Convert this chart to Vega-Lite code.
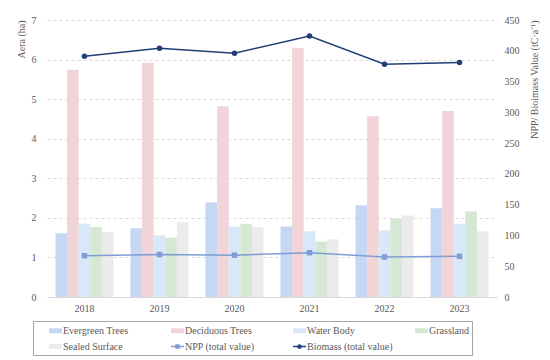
{
  "$schema": "https://vega.github.io/schema/vega-lite/v6.json",
  "width": 450,
  "height": 277,
  "autosize": {"type": "none"},
  "padding": {"left": 47, "top": 20, "right": 53, "bottom": 63},
  "background": "white",
  "config": {
    "view": {"stroke": null},
    "font": "Liberation Serif",
    "axis": {"labelFont": "Liberation Serif", "titleFont": "Liberation Serif", "labelFontSize": 10, "titleFontSize": 10, "labelColor": "#595959", "titleColor": "#595959", "titleFontWeight": "normal"},
    "legend": {"labelFont": "Liberation Serif", "labelFontSize": 10, "labelColor": "#595959"}
  },
  "data": {"values": [
    {"year": "2018", "series": "Evergreen Trees", "value": 1.61},
    {"year": "2018", "series": "Deciduous Trees", "value": 5.74},
    {"year": "2018", "series": "Water Body", "value": 1.85},
    {"year": "2018", "series": "Grassland", "value": 1.77},
    {"year": "2018", "series": "Sealed Surface", "value": 1.64},
    {"year": "2019", "series": "Evergreen Trees", "value": 1.74},
    {"year": "2019", "series": "Deciduous Trees", "value": 5.92},
    {"year": "2019", "series": "Water Body", "value": 1.56},
    {"year": "2019", "series": "Grassland", "value": 1.5},
    {"year": "2019", "series": "Sealed Surface", "value": 1.89},
    {"year": "2020", "series": "Evergreen Trees", "value": 2.39},
    {"year": "2020", "series": "Deciduous Trees", "value": 4.82},
    {"year": "2020", "series": "Water Body", "value": 1.78},
    {"year": "2020", "series": "Grassland", "value": 1.85},
    {"year": "2020", "series": "Sealed Surface", "value": 1.76},
    {"year": "2021", "series": "Evergreen Trees", "value": 1.78},
    {"year": "2021", "series": "Deciduous Trees", "value": 6.29},
    {"year": "2021", "series": "Water Body", "value": 1.66},
    {"year": "2021", "series": "Grassland", "value": 1.4},
    {"year": "2021", "series": "Sealed Surface", "value": 1.46},
    {"year": "2022", "series": "Evergreen Trees", "value": 2.32},
    {"year": "2022", "series": "Deciduous Trees", "value": 4.57},
    {"year": "2022", "series": "Water Body", "value": 1.68},
    {"year": "2022", "series": "Grassland", "value": 1.98},
    {"year": "2022", "series": "Sealed Surface", "value": 2.06},
    {"year": "2023", "series": "Evergreen Trees", "value": 2.24},
    {"year": "2023", "series": "Deciduous Trees", "value": 4.7},
    {"year": "2023", "series": "Water Body", "value": 1.85},
    {"year": "2023", "series": "Grassland", "value": 2.16},
    {"year": "2023", "series": "Sealed Surface", "value": 1.66},
    {"year": "2018", "series": "NPP (total value)", "value": 67},
    {"year": "2019", "series": "NPP (total value)", "value": 69},
    {"year": "2020", "series": "NPP (total value)", "value": 68},
    {"year": "2021", "series": "NPP (total value)", "value": 72},
    {"year": "2022", "series": "NPP (total value)", "value": 65},
    {"year": "2023", "series": "NPP (total value)", "value": 66},
    {"year": "2018", "series": "Biomass (total value)", "value": 391},
    {"year": "2019", "series": "Biomass (total value)", "value": 404},
    {"year": "2020", "series": "Biomass (total value)", "value": 396},
    {"year": "2021", "series": "Biomass (total value)", "value": 424},
    {"year": "2022", "series": "Biomass (total value)", "value": 378},
    {"year": "2023", "series": "Biomass (total value)", "value": 381}
  ]},
  "encoding": {
    "x": {"field": "year", "type": "nominal", "title": null,
      "scale": {"paddingInner": 0.227, "paddingOuter": 0.113},
      "axis": {"labelAngle": 0, "ticks": false, "domainColor": "#d9d9d9", "labelPadding": 6, "labelFont": "Liberation Serif", "labelFontSize": 10}},
    "color": {"field": "series", "type": "nominal",
      "scale": {
        "domain": ["Evergreen Trees", "Deciduous Trees", "Water Body", "Grassland", "Sealed Surface", "NPP (total value)", "Biomass (total value)"],
        "range": ["#c5d7f2", "#f0d4d8", "#d9e8f8", "#d5e8d3", "#ebebeb", "#7f9dd4", "#203f77"]},
      "legend": {
        "title": null, "orient": "none", "legendX": -14, "legendY": 301,
        "direction": "horizontal", "columns": 4, "gridAlign": "all", "columnPadding": 9,
        "rowPadding": 4, "padding": 3, "strokeColor": "#a6a6a6", "symbolOffset": 13,
        "symbolSize": 169, "labelOffset": 1,
        "labelFont": "Liberation Serif", "labelFontSize": 10,
        "encode": {"symbols": {"update": {
          "shape": {"signal": "datum.value === 'NPP (total value)' ? 'M-1,-0.1H1V0.1H-1Z M-0.33,-0.33H0.33V0.33H-0.33Z' : datum.value === 'Biomass (total value)' ? 'M-1,-0.1H1V0.1H-1Z M0.36,0 A0.36,0.36 0 1,1 -0.36,0 A0.36,0.36 0 1,1 0.36,0Z' : 'M-1,-0.38H1V0.38H-1Z'"},
          "fill": {"scale": "color", "field": "value"},
          "stroke": {"value": "transparent"},
          "strokeWidth": {"value": 0},
          "opacity": {"value": 1}}}}
      }
    }
  },
  "layer": [
    {
      "transform": [{"filter": {"field": "series", "oneOf": ["Evergreen Trees", "Deciduous Trees", "Water Body", "Grassland", "Sealed Surface"]}}],
      "mark": {"type": "bar", "opacity": 1},
      "encoding": {
        "xOffset": {"field": "series", "type": "nominal", "sort": ["Evergreen Trees", "Deciduous Trees", "Water Body", "Grassland", "Sealed Surface"], "scale": {"paddingInner": 0, "paddingOuter": 0}},
        "y": {"field": "value", "type": "quantitative", "title": "Aera (ha)",
          "scale": {"domain": [0, 7]},
          "axis": {"orient": "left", "values": [0, 1, 2, 3, 4, 5, 6, 7], "domain": false, "ticks": false, "gridDash": [3, 3], "gridColor": "#d9d9d9", "labelPadding": 11, "titleAnchor": "end", "titlePadding": 5, "labelFont": "Liberation Serif", "titleFont": "Liberation Serif", "labelFontSize": 10, "titleFontSize": 10}}
      }
    },
    {
      "transform": [{"filter": {"field": "series", "oneOf": ["NPP (total value)", "Biomass (total value)"]}}],
      "encoding": {
        "y": {"field": "value", "type": "quantitative", "title": "NPP/ Bioimass Value (tC·a⁻¹)",
          "scale": {"domain": [0, 450]},
          "axis": {"orient": "right", "values": [0, 50, 100, 150, 200, 250, 300, 350, 400, 450], "labelOverlap": false, "grid": false, "domain": false, "ticks": false, "labelPadding": 7, "titleAnchor": "end", "titleAngle": 270, "titlePadding": 20, "labelFont": "Liberation Serif", "titleFont": "Liberation Serif", "labelFontSize": 10, "titleFontSize": 10}}
      },
      "layer": [
        {
          "mark": {"type": "line", "strokeWidth": 1.5}
        },
        {
          "transform": [{"filter": "datum.series === 'NPP (total value)'"}],
          "mark": {"type": "point", "shape": "square", "filled": true, "size": 30, "opacity": 1}
        },
        {
          "transform": [{"filter": "datum.series === 'Biomass (total value)'"}],
          "mark": {"type": "point", "shape": "circle", "filled": true, "size": 30, "opacity": 1}
        }
      ]
    }
  ],
  "resolve": {"scale": {"y": "independent"}}
}
